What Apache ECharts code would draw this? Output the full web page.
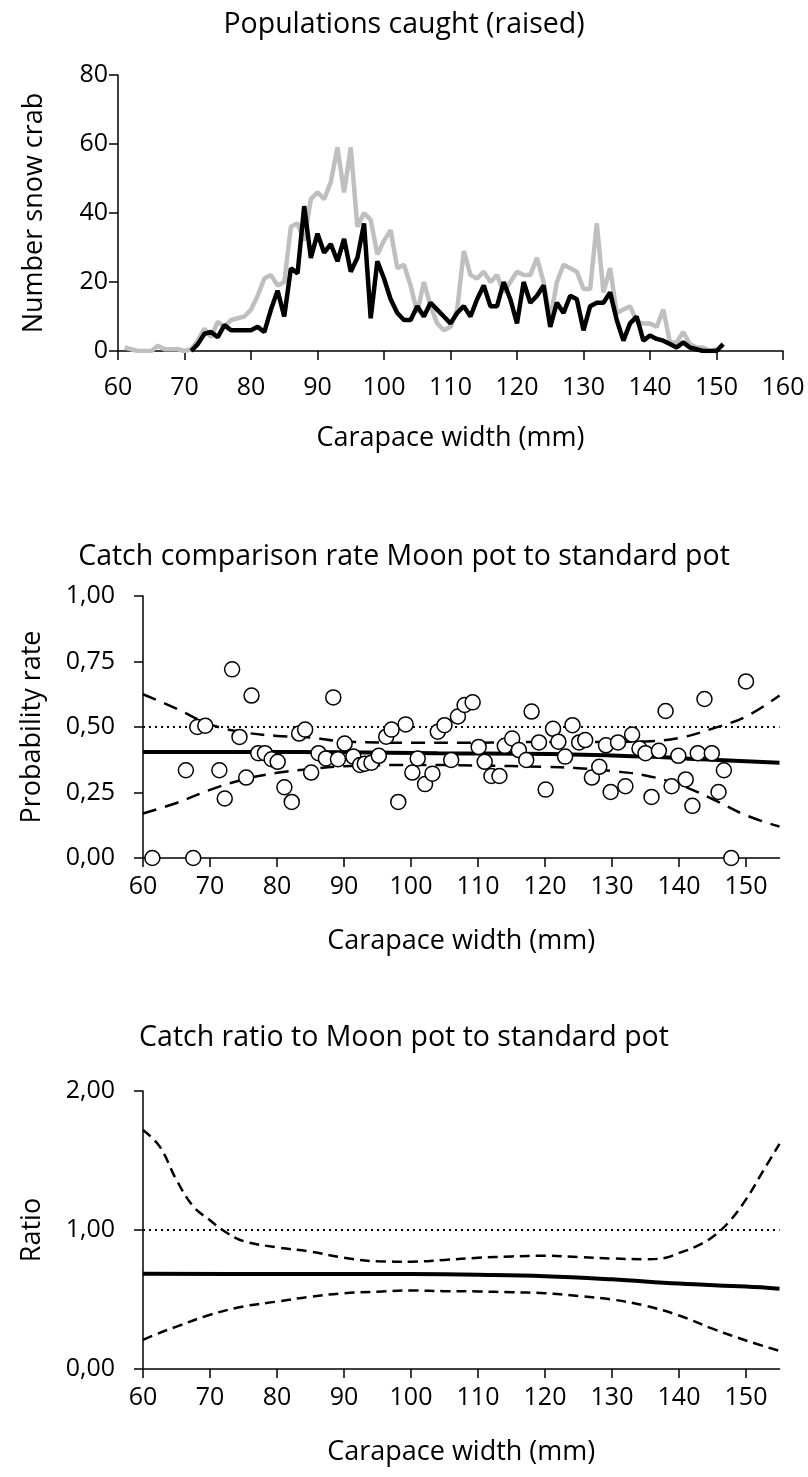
<!DOCTYPE html>
<html>
<head>
<meta charset="utf-8">
<script src="https://cdn.jsdelivr.net/npm/echarts@6/dist/echarts.min.js"></script>
<style>
html,body{margin:0;padding:0;background:#fff;}
#c{width:808px;height:1477px;}
</style>
</head>
<body>
<div id="c"></div>
<script>
// ---- Panel 1: populations caught (raised) ----
var grayWidths = [61,62,63,64,65,66,67,68,69,70,71,72,73,74,75,76,77,78,79,80,81,82,83,84,85,86,87,88,89,90,91,92,93,94,95,96,97,98,99,100,101,102,103,104,105,106,107,108,109,110,111,112,113,114,115,116,117,118,119,120,121,122,123,124,125,126,127,128,129,130,131,132,133,134,135,136,137,138,139,140,141,142,143,144,145,146,147,148,149,150];
var grayCounts = [1,0.5,0,0,0,1.5,0.5,0.5,0.5,0,0.5,3,6.5,4,8.5,7,9,9.5,10,12,16,21,22,19,20,36,37,32,44,46,44,49,59,46,59,36,40,38,28,32,35,24,25,19,11,20,13,8,6,7,12,29,22,21,23,20,22,17,20,23,22,22,27,20,9,20,25,24,23,18,18,37,17,24,11,12,13,8.5,8,8,7,12,2.5,2.5,5.5,2,1,1,0,0.5];
var blackWidths = [71,72,73,74,75,76,77,78,79,80,81,82,83,84,85,86,87,88,89,90,91,92,93,94,95,96,97,98,99,100,101,102,103,104,105,106,107,108,109,110,111,112,113,114,115,116,117,118,119,120,121,122,123,124,125,126,127,128,129,130,131,132,133,134,135,136,137,138,139,140,141,142,143,144,145,146,147,148,149,150,151];
var blackCounts = [0,2,5,5.5,4,7.5,6,6,6,6,7,5.5,12,17.5,10,24,22.5,42,27,34,28.5,31,26,32.5,23,27,37,9.5,26,21,15,11,9,9,13,10,14,12,10,8,11,13,10,15,19,13,13,20,15,8,20,14,16,19,7,14,11,16,15,6,13,14,14,17,9,3,8,10,3,4.5,3.5,3,2,1,2.5,1,0.5,0,0,0,2];
var p1XTicks = [60,70,80,90,100,110,120,130,140,150,160];
var p1YTicks = [0,20,40,60,80];

// ---- Panel 2: catch comparison rate ----
var obsWidths = [61.4,67.5,66.4,68.1,69.3,73.3,71.4,72.2,74.4,76.2,75.4,77.2,78.2,79.2,80.1,81.1,82.2,83.3,84.2,85.1,86.2,87.3,88.4,89.1,90.1,91.4,92.4,93.1,94.1,95.2,96.3,97.1,98.1,99.2,100.2,101.0,102.1,103.2,104.0,105.0,106.0,107.0,108.0,109.2,110.1,111.0,112.0,113.2,114.0,115.1,116.1,117.2,118.0,119.1,120.1,121.2,122.0,123.0,124.1,125.1,126.0,127.0,128.1,129.1,129.8,130.9,132.0,133.0,134.1,135.0,135.9,137.0,138.0,138.9,139.9,141.0,142.0,142.8,143.8,144.9,145.9,146.7,147.8,150.0];
var obsRates = [0.00,0.00,0.335,0.50,0.505,0.72,0.335,0.227,0.462,0.62,0.307,0.40,0.40,0.377,0.367,0.27,0.214,0.475,0.49,0.326,0.40,0.38,0.613,0.377,0.437,0.387,0.355,0.36,0.364,0.39,0.463,0.49,0.214,0.51,0.326,0.38,0.282,0.322,0.482,0.507,0.374,0.54,0.584,0.594,0.424,0.367,0.313,0.313,0.428,0.456,0.412,0.374,0.559,0.441,0.261,0.493,0.444,0.387,0.507,0.441,0.45,0.307,0.348,0.43,0.252,0.441,0.274,0.471,0.418,0.40,0.233,0.409,0.561,0.274,0.39,0.30,0.199,0.40,0.607,0.40,0.252,0.335,0.00,0.674];
var rateFitWidths = [60,75,90,104,121,135,145,155];
var rateFit = [0.405,0.405,0.404,0.400,0.397,0.387,0.375,0.364];
var rateCIWidths = [60,65,70,75,80,85,90,100,110,120,125,130,135,140,145,150,155];
var rateUpper = [0.625,0.57,0.51,0.48,0.466,0.46,0.445,0.44,0.44,0.443,0.443,0.443,0.445,0.458,0.494,0.54,0.62];
var rateLower = [0.17,0.21,0.26,0.30,0.325,0.34,0.35,0.355,0.353,0.348,0.343,0.332,0.315,0.28,0.225,0.163,0.12];
var rateRef = 0.5;
var p2XTicks = [60,70,80,90,100,110,120,130,140,150];
var p2YTicks = [0,0.25,0.5,0.75,1.0];

// ---- Panel 3: catch ratio ----
var ratioFitWidths = [60,80,100,110,120,130,140,150,155];
var ratioFit = [0.685,0.684,0.683,0.678,0.668,0.645,0.615,0.593,0.578];
var ratioUpWidths = [60,62.5,65,67.5,70,72.5,75,80,85,90,95,100,105,110,115,120,125,130,135,138,140,142.5,145,147.5,150,152.5,155];
var ratioUpper = [1.72,1.6,1.36,1.17,1.07,0.98,0.92,0.875,0.845,0.80,0.775,0.772,0.785,0.80,0.81,0.815,0.805,0.795,0.79,0.80,0.835,0.88,0.95,1.06,1.22,1.42,1.62];
var ratioLowWidths = [60,62.5,65,70,75,80,85,90,95,100,105,110,115,120,125,130,135,140,145,150,155];
var ratioLower = [0.21,0.26,0.305,0.39,0.45,0.485,0.52,0.545,0.556,0.565,0.56,0.558,0.552,0.545,0.525,0.50,0.455,0.385,0.29,0.205,0.13];
var ratioRef = 1.0;
var p3XTicks = [60,70,80,90,100,110,120,130,140,150];
var p3YTicks = [0,1,2];

function pairs(xs, ys){ return xs.map(function(x,i){ return [x, ys[i]]; }); }
function comma(v){ return v.toFixed(2).replace('.', ','); }

var FONT = 'Open Sans';
var TICK = 25, NAME = 27, TITLE = 28.5;
var axLine = {show:true, lineStyle:{color:'#000', width:1.5}};

function xAxis(grid, min, max, ticks, margin, gap){
  return {
    type:'value', gridIndex:grid, min:min, max:max, interval:10,
    name:'Carapace width (mm)', nameLocation:'middle', nameGap:gap,
    nameTextStyle:{color:'#000', fontFamily:FONT, fontSize:NAME},
    axisLine:axLine,
    axisTick:{show:true, length:9, lineStyle:{color:'#000', width:1.5}, customValues:ticks},
    axisLabel:{margin:margin, customValues:ticks, color:'#000', fontFamily:FONT, fontSize:TICK},
    splitLine:{show:false}
  };
}
function yAxis(grid, min, max, interval, ticks, name, gap, margin, fmt){
  return {
    type:'value', gridIndex:grid, min:min, max:max, interval:interval,
    name:name, nameLocation:'middle', nameGap:gap, nameRotate:90,
    nameTextStyle:{color:'#000', fontFamily:FONT, fontSize:NAME},
    axisLine:axLine,
    axisTick:{show:true, length:9, lineStyle:{color:'#000', width:1.5}, customValues:ticks},
    axisLabel:{margin:margin, formatter:fmt, customValues:ticks, color:'#000', fontFamily:FONT, fontSize:TICK},
    splitLine:{show:false}
  };
}

var titleStyle = {color:'#000', fontFamily:FONT, fontSize:TITLE, fontWeight:'normal'};
var option = {
  backgroundColor:'#fff',
  animation:false,
  title:[
    {text:'Populations caught (raised)', left:'center', top:5, textStyle:titleStyle},
    {text:'Catch comparison rate Moon pot to standard pot', left:'center', top:537, textStyle:titleStyle},
    {text:'Catch ratio to Moon pot to standard pot', left:'center', top:1018, textStyle:titleStyle}
  ],
  grid:[
    {left:118, width:665, top:75, height:276},
    {left:143, width:636.5, top:596, height:262},
    {left:143, width:636.5, top:1091, height:278}
  ],
  xAxis:[
    xAxis(0, 60, 160, p1XTicks, 24, 74),
    xAxis(1, 60, 155, p2XTicks, 16, 70),
    xAxis(2, 60, 155, p3XTicks, 16, 70)
  ],
  yAxis:[
    yAxis(0, 0, 80, 20, p1YTicks, 'Number snow crab', 70, 10, function(v){return String(v);}),
    yAxis(1, 0, 1, 0.25, p2YTicks, 'Probability rate', 97, 28, comma),
    yAxis(2, 0, 2, 1, p3YTicks, 'Ratio', 97, 28, comma)
  ],
  series:[
    {type:'line', xAxisIndex:0, yAxisIndex:0, data:pairs(grayWidths, grayCounts), showSymbol:false, lineStyle:{color:'#bfbfbf', width:4.5}, z:2},
    {type:'line', xAxisIndex:0, yAxisIndex:0, data:pairs(blackWidths, blackCounts), showSymbol:false, lineStyle:{color:'#000', width:4.5}, z:3},

    {type:'line', xAxisIndex:1, yAxisIndex:1, data:[[60, rateRef],[155, rateRef]], showSymbol:false, lineStyle:{color:'#000', width:2, type:[2,4]}, z:2},
    {type:'line', xAxisIndex:1, yAxisIndex:1, data:pairs(rateCIWidths, rateUpper), smooth:0.4, showSymbol:false, lineStyle:{color:'#000', width:2.5, type:[14,9]}, z:2},
    {type:'line', xAxisIndex:1, yAxisIndex:1, data:pairs(rateCIWidths, rateLower), smooth:0.4, showSymbol:false, lineStyle:{color:'#000', width:2.5, type:[14,9]}, z:2},
    {type:'line', xAxisIndex:1, yAxisIndex:1, data:pairs(rateFitWidths, rateFit), smooth:0.4, showSymbol:false, lineStyle:{color:'#000', width:4}, z:2},
    {type:'scatter', xAxisIndex:1, yAxisIndex:1, data:pairs(obsWidths, obsRates), symbol:'circle', symbolSize:15, itemStyle:{color:'#fff', borderColor:'#000', borderWidth:1.5, opacity:1}, z:5},

    {type:'line', xAxisIndex:2, yAxisIndex:2, data:[[60, ratioRef],[155, ratioRef]], showSymbol:false, lineStyle:{color:'#000', width:2, type:[2,4]}, z:2},
    {type:'line', xAxisIndex:2, yAxisIndex:2, data:pairs(ratioUpWidths, ratioUpper), smooth:0.4, showSymbol:false, lineStyle:{color:'#000', width:2.5, type:[10,6]}, z:2},
    {type:'line', xAxisIndex:2, yAxisIndex:2, data:pairs(ratioLowWidths, ratioLower), smooth:0.4, showSymbol:false, lineStyle:{color:'#000', width:2.5, type:[10,6]}, z:2},
    {type:'line', xAxisIndex:2, yAxisIndex:2, data:pairs(ratioFitWidths, ratioFit), smooth:0.4, showSymbol:false, lineStyle:{color:'#000', width:4}, z:3}
  ]
};
var chart = echarts.init(document.getElementById('c'), null, {renderer:'canvas'});
chart.setOption(option);
</script>
</body>
</html>
